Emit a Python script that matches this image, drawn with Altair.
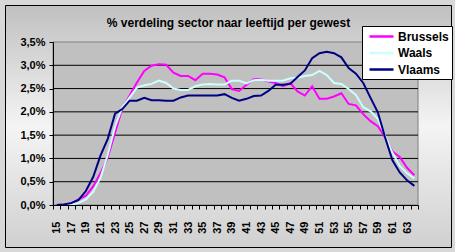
import altair as alt
import pandas as pd

# ---- data (percentages) ----
ages = list(range(15, 65))
series_names = ["Brussels", "Waals", "Vlaams"]
series_colors = ["#FF00FF", "#CCFFFF", "#000080"]

brussels = [0.00, 0.01, 0.04, 0.12, 0.20, 0.40, 0.68, 1.02, 1.55, 2.08,
            2.35, 2.63, 2.88, 2.99, 3.02, 3.01, 2.84, 2.77, 2.77, 2.68,
            2.82, 2.82, 2.80, 2.74, 2.49, 2.45, 2.58, 2.70, 2.70, 2.65,
            2.62, 2.55, 2.62, 2.44, 2.35, 2.55, 2.28, 2.28, 2.33, 2.40,
            2.17, 2.14, 1.95, 1.80, 1.69, 1.45, 1.15, 1.03, 0.80, 0.64]
waals = [0.00, 0.00, 0.01, 0.04, 0.12, 0.28, 0.58, 1.08, 1.68, 2.10,
         2.31, 2.52, 2.57, 2.60, 2.67, 2.62, 2.50, 2.47, 2.47, 2.55,
         2.59, 2.60, 2.59, 2.59, 2.67, 2.67, 2.61, 2.68, 2.69, 2.67,
         2.67, 2.67, 2.72, 2.73, 2.77, 2.79, 2.88, 2.79, 2.62, 2.60,
         2.49, 2.36, 2.10, 2.01, 1.85, 1.49, 1.12, 0.84, 0.68, 0.57]
vlaams = [0.00, 0.01, 0.04, 0.11, 0.30, 0.60, 1.06, 1.42, 1.96, 2.06,
          2.24, 2.24, 2.30, 2.25, 2.25, 2.24, 2.24, 2.31, 2.35, 2.35,
          2.35, 2.35, 2.35, 2.38, 2.30, 2.24, 2.28, 2.34, 2.35, 2.45,
          2.58, 2.58, 2.60, 2.75, 2.89, 3.15, 3.26, 3.29, 3.26, 3.17,
          2.94, 2.82, 2.62, 2.30, 1.99, 1.45, 0.96, 0.70, 0.53, 0.41]

y_ticks = [0.0, 0.5, 1.0, 1.5, 2.0, 2.5, 3.0, 3.5]
grid_values = [0.5, 1.0, 1.5, 2.0, 2.5, 3.0]
title_text = "% verdeling sector naar leeftijd per gewest"

rows = []
for name, vals in zip(series_names, [brussels, waals, vlaams]):
    for a, v in zip(ages, vals):
        rows.append({"leeftijd": a, "pct": v, "gewest": name})
df = pd.DataFrame(rows)
grid_df = pd.DataFrame({"v": grid_values})
one = pd.DataFrame({"k": [0]})

W, H = 365, 163
FONT = "Liberation Sans"
yscale = alt.Scale(domain=[0, 3.5], nice=False, zero=True)
yaxis = alt.Axis(values=y_ticks, title=None, grid=False,
                 labelExpr="replace(format(datum.value, '.1f'), '.', ',') + '%'",
                 tickSize=4, tickColor="black", domainColor="black",
                 labelFont=FONT, labelFontSize=11, labelFontWeight="bold",
                 labelColor="black", labelPadding=4, zindex=1)

background = alt.Chart(one).mark_rect(
    fill=alt.LinearGradient(
        gradient="linear", x1=0, y1=0, x2=0, y2=1,
        stops=[alt.GradientStop(offset=0, color="#C0C0C0"),
               alt.GradientStop(offset=0.5, color="#F4F4F4"),
               alt.GradientStop(offset=1, color="#D0D0D0")]),
    stroke="black", strokeWidth=1,
).encode(x=alt.value(-47.5), x2=alt.value(398.5), y=alt.value(-36.5), y2=alt.value(205.5))

plot_bg = alt.Chart(one).mark_rect(fill="#C0C0C0", stroke="#808080", strokeWidth=1).encode(
    x=alt.value(0), x2=alt.value(W), y=alt.value(0), y2=alt.value(H))

grid = alt.Chart(grid_df).mark_rule(color="black", strokeWidth=1).encode(
    y=alt.Y("v:Q", scale=yscale, axis=yaxis))

lines = alt.Chart(df).mark_line(strokeWidth=2, clip=False).encode(
    x=alt.X("leeftijd:O",
            scale=alt.Scale(type="band", paddingInner=0, paddingOuter=0),
            axis=alt.Axis(title=None, labelAngle=-90, labelAlign="right", labelBaseline="middle",
                          labelExpr="datum.value % 2 == 1 ? datum.label : ''",
                          labelOverlap=False, tickBand="extent", tickSize=4,
                          tickColor="black", domainColor="black", grid=False,
                          labelFont=FONT, labelFontSize=11, labelFontWeight="bold",
                          labelColor="black", labelPadding=12, zindex=1)),
    y=alt.Y("pct:Q", scale=yscale, axis=yaxis),
    color=alt.Color("gewest:N",
                    scale=alt.Scale(domain=series_names, range=series_colors),
                    legend=alt.Legend(title=None, orient="none", legendX=309, legendY=-16,
                                      fillColor="white", strokeColor="black", padding=3,
                                      symbolType="M-2,0H2", symbolSize=144, symbolStrokeWidth=2.5,
                                      symbolOffset=9, labelOffset=9,
                                      labelFont=FONT, labelFontSize=12, labelFontWeight="bold",
                                      labelColor="black", rowPadding=2.5, zindex=1)),
    detail="gewest:N",
)

chart = alt.layer(background, plot_bg, grid, lines).properties(
    width=W, height=H,
    title=alt.TitleParams(text=title_text, font=FONT, fontSize=12, fontWeight="bold",
                          color="black", anchor="middle", dx=-7, dy=29),
    autosize=alt.AutoSizeParams(type="none"),
    padding={"left": 53, "top": 42, "right": 37, "bottom": 47},
).configure_view(strokeWidth=0).configure(background="#D8D8D8")

chart.save("out.html", embed_options={"renderer": "svg", "actions": False})
